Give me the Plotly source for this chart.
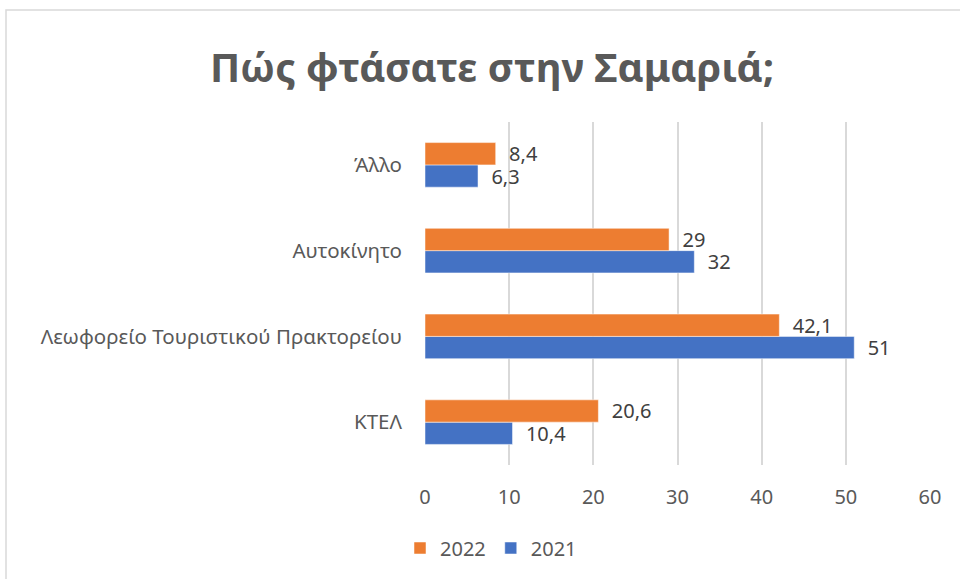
import plotly.graph_objects as go

categories = ['ΚΤΕΛ', 'Λεωφορείο Τουριστικού Πρακτορείου', 'Αυτοκίνητο', 'Άλλο']
values_2021 = [10.4, 51, 32, 6.3]
values_2022 = [20.6, 42.1, 29, 8.4]
x_ticks = [0, 10, 20, 30, 40, 50, 60]

W, H = 960, 579
L, R, T, B = 425, 30, 122, 114
pw, ph = W - L - R, H - T - B

font = 'Noto Sans'
grey = '#595959'

fig = go.Figure()
# plotly stacks the first trace at the bottom of a group, so 2021 goes in first
fig.add_trace(go.Bar(
    y=categories, x=values_2021, orientation='h', name='2021',
    marker=dict(color='#4472C4', line=dict(color='white', width=0.5)),
    texttemplate='  %{x}', textposition='outside', cliponaxis=False, constraintext='none',
    textfont=dict(size=20, color='#404040', family=font),
))
fig.add_trace(go.Bar(
    y=categories, x=values_2022, orientation='h', name='2022',
    marker=dict(color='#ED7D31', line=dict(color='white', width=0.5)),
    texttemplate='  %{x}', textposition='outside', cliponaxis=False, constraintext='none',
    textfont=dict(size=20, color='#404040', family=font),
))

# outer chart border, like the Excel chart area
fig.add_shape(type='rect', xref='paper', yref='paper',
              x0=(6 - L) / pw, x1=(W + 10 - L) / pw,
              y0=-(H + 10 - T - ph) / ph, y1=(H - B - 10) / ph,
              line=dict(color='#D9D9D9', width=1.5), fillcolor='rgba(0,0,0,0)', layer='below')

fig.update_layout(
    width=W, height=H,
    margin=dict(l=L, r=R, t=T, b=B),
    paper_bgcolor='white', plot_bgcolor='white',
    separators=',.',
    title=dict(text='<b>Πώς φτάσατε στην Σαμαριά;</b>', x=492 / W, xref='container', xanchor='center',
               y=1 - 68 / H, yanchor='middle',
               font=dict(family=font, size=40, color=grey)),
    barmode='group', bargap=0.48, bargroupgap=0,
    xaxis=dict(range=[0, 60], tickvals=x_ticks, showgrid=True, gridcolor='#D9D9D9', gridwidth=1.5,
               zeroline=False, showline=False, ticks='', ticklabelstandoff=18,
               tickfont=dict(family=font, size=20, color=grey)),
    yaxis=dict(showgrid=False, zeroline=False, showline=False, ticks='', ticklabelstandoff=22,
               tickfont=dict(family=font, size=20.5, color=grey)),
    legend=dict(orientation='h', traceorder='reversed', x=(400 - L) / pw, xanchor='left',
                y=-(548 - T - ph) / ph, yanchor='middle',
                font=dict(family=font, size=20, color=grey), itemwidth=30),
    showlegend=True,
)

fig.write_html('out.html', config={'displayModeBar': False},
               post_script="document.body.style.margin='0';")
